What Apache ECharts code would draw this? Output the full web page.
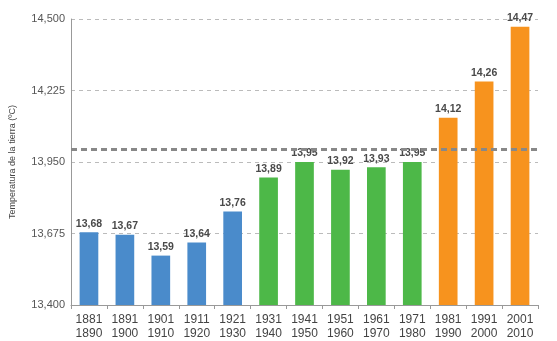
<!DOCTYPE html>
<html><head><meta charset="utf-8">
<script src="https://cdn.jsdelivr.net/npm/echarts@6/dist/echarts.min.js"></script>
<style>html,body{margin:0;padding:0;background:#fff}#c{width:557px;height:341px}</style>
</head><body><div id="c"></div>
<script>
var categories = ['1881\n1890','1891\n1900','1901\n1910','1911\n1920','1921\n1930','1931\n1940','1941\n1950','1951\n1960','1961\n1970','1971\n1980','1981\n1990','1991\n2000','2001\n2010'];
var values = [13.68,13.67,13.59,13.64,13.76,13.89,13.95,13.92,13.93,13.95,14.12,14.26,14.47];
var groupOf = [0,0,0,0,0,1,1,1,1,1,2,2,2];
var groupColors = ['#4a8bcb','#4db848','#f7931e'];
var yTicks = [13.400,13.675,13.950,14.225,14.500];
var referenceLine = 14.0;
var BASE = yTicks[0];
var STEP = yTicks[1]-yTicks[0];
var TOP = yTicks[yTicks.length-1];
function fmt(v,d){return v.toFixed(d).replace('.',',');}
var chart = echarts.init(document.getElementById('c'));
chart.setOption({
  animation:false,
  grid:{left:69,right:19,top:19,bottom:35},
  xAxis:{type:'category',data:categories,
    axisLine:{lineStyle:{color:'#999',width:1}},
    axisTick:{show:true,alignWithLabel:false,length:4,lineStyle:{color:'#999'}},
    axisLabel:{color:'#444',fontSize:12,lineHeight:14,margin:8,fontFamily:'Arial, Liberation Sans, sans-serif',interval:0}
  },
  yAxis:{type:'value',min:0,max:TOP-BASE,interval:STEP,
    name:'Temperatura de la tierra (ºC)',nameLocation:'middle',nameGap:54,
    nameTextStyle:{color:'#444',fontSize:9,fontFamily:'Arial, Liberation Sans, sans-serif'},
    axisLine:{show:true,lineStyle:{color:'#999'}},
    axisTick:{show:false},
    axisLabel:{color:'#555',fontSize:11,margin:6,fontFamily:'Arial, Liberation Sans, sans-serif',
      formatter:function(v){return fmt(v+BASE,3);}},
    splitLine:{show:true,lineStyle:{color:'#bbb',type:[4,4],width:1}}
  },
  series:[{type:'bar',barWidth:'52%',
    data:values.map(function(v,i){return {value:v-BASE,itemStyle:{color:groupColors[groupOf[i]]}};}),
    label:{show:true,position:'top',distance:3,color:'#4a4a4a',fontSize:10.5,fontWeight:'bold',
      fontFamily:'Arial, Liberation Sans, sans-serif',
      formatter:function(p){return fmt(values[p.dataIndex],2);}},
    markLine:{silent:true,symbol:['none','none'],label:{show:false},
      lineStyle:{color:'#888',type:[6,4],width:3},
      data:[{yAxis:referenceLine-BASE}]}
  }]
});
</script></body></html>
